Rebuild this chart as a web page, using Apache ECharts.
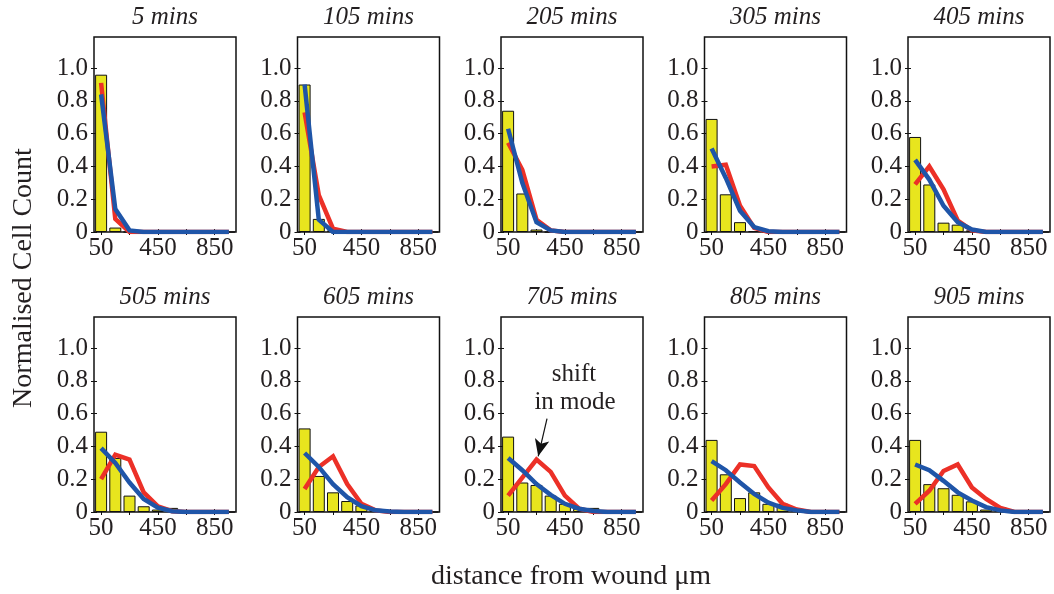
<!DOCTYPE html>
<html>
<head>
<meta charset="utf-8">
<script src="https://cdn.jsdelivr.net/npm/echarts@6/dist/echarts.min.js"></script>
<style>
html,body{margin:0;padding:0;background:#fff;}
#chart{width:1054px;height:594px;}
</style>
</head>
<body>
<div id="chart"></div>
<script>
// ---- data ----
const bins = [50, 150, 250, 350, 450, 550, 650, 750, 850, 950];
const panelTitles = ['5 mins','105 mins','205 mins','305 mins','405 mins','505 mins','605 mins','705 mins','805 mins','905 mins'];
const xTickLabels = [50, 450, 850];
const xTicks = [50, 250, 450, 650, 850];
const yTicks = [0, 0.2, 0.4, 0.6, 0.8, 1.0];

const hist5   = [0.96, 0.027, 0, 0, 0, 0, 0, 0, 0, 0];
const hist105 = [0.90, 0.08, 0.01, 0, 0, 0, 0, 0, 0, 0];
const hist205 = [0.74, 0.235, 0.015, 0, 0, 0, 0, 0, 0, 0];
const hist305 = [0.69, 0.23, 0.06, 0.005, 0, 0, 0, 0, 0, 0];
const hist405 = [0.58, 0.29, 0.057, 0.045, 0.01, 0, 0, 0, 0, 0];
const hist505 = [0.49, 0.33, 0.10, 0.035, 0.015, 0.025, 0, 0, 0, 0];
const hist605 = [0.51, 0.22, 0.12, 0.067, 0.04, 0.015, 0, 0, 0, 0];
const hist705 = [0.46, 0.18, 0.165, 0.10, 0.05, 0.02, 0.025, 0, 0, 0];
const hist805 = [0.44, 0.23, 0.085, 0.12, 0.05, 0.05, 0.015, 0, 0, 0];
const hist905 = [0.44, 0.17, 0.145, 0.105, 0.065, 0.015, 0.03, 0, 0, 0];

const red5   = [0.91, 0.08, 0, 0, 0, 0, 0, 0, 0, 0];
const red105 = [0.73, 0.225, 0.02, 0, 0, 0, 0, 0, 0, 0];
const red205 = [0.545, 0.38, 0.075, 0.01, 0, 0, 0, 0, 0, 0];
const red305 = [0.40, 0.41, 0.16, 0.025, 0, 0, 0, 0, 0, 0];
const red405 = [0.29, 0.40, 0.26, 0.07, 0.01, 0, 0, 0, 0, 0];
const red505 = [0.20, 0.35, 0.32, 0.12, 0.035, 0.005, 0, 0, 0, 0];
const red605 = [0.14, 0.275, 0.34, 0.17, 0.05, 0.01, 0, 0, 0, 0];
const red705 = [0.10, 0.21, 0.32, 0.245, 0.10, 0.02, 0, 0, 0, 0];
const red805 = [0.07, 0.17, 0.29, 0.28, 0.15, 0.05, 0.015, 0, 0, 0];
const red905 = [0.05, 0.13, 0.25, 0.29, 0.15, 0.08, 0.025, 0, 0, 0];

const blue5   = [0.84, 0.14, 0.01, 0, 0, 0, 0, 0, 0, 0];
const blue105 = [0.90, 0.075, 0, 0, 0, 0, 0, 0, 0, 0];
const blue205 = [0.63, 0.30, 0.06, 0.01, 0, 0, 0, 0, 0, 0];
const blue305 = [0.51, 0.33, 0.13, 0.03, 0.005, 0, 0, 0, 0, 0];
const blue405 = [0.44, 0.32, 0.16, 0.06, 0.015, 0, 0, 0, 0, 0];
const blue505 = [0.39, 0.30, 0.18, 0.08, 0.027, 0.005, 0, 0, 0, 0];
const blue605 = [0.36, 0.275, 0.17, 0.09, 0.035, 0.01, 0.003, 0, 0, 0];
const blue705 = [0.33, 0.255, 0.17, 0.105, 0.05, 0.02, 0.006, 0, 0, 0];
const blue805 = [0.31, 0.255, 0.18, 0.11, 0.057, 0.025, 0.01, 0, 0, 0];
const blue905 = [0.29, 0.255, 0.19, 0.12, 0.07, 0.03, 0.01, 0, 0, 0];

const hists = [hist5, hist105, hist205, hist305, hist405, hist505, hist605, hist705, hist805, hist905];
const reds  = [red5, red105, red205, red305, red405, red505, red605, red705, red805, red905];
const blues = [blue5, blue105, blue205, blue305, blue405, blue505, blue605, blue705, blue805, blue905];

// annotation arrow (data coords in 705 panel)
const arrowFrom = [324, 0.57];
const arrowTo = [262, 0.34];

// ---- layout ----
const FONT = "'Liberation Serif', 'DejaVu Serif', serif";
const TXT = '#231f20';
const colLeft = [94, 297.5, 501, 704.5, 908];
const rowTop = [37, 317];
const boxW = 142, boxH = 195;
const XMAX = 1000, YMAX = 1.19;

const grids = [], xAxes = [], yAxes = [], series = [], graphics = [];
for (let p = 0; p < 10; p++) {
  const r = Math.floor(p / 5), c = p % 5;
  grids.push({left: colLeft[c], top: rowTop[r], width: boxW, height: boxH,
    show: true, borderColor: '#111', borderWidth: 1.5, backgroundColor: 'transparent'});
  const xi = xAxes.length;
  xAxes.push({type: 'value', gridIndex: p, min: 0, max: XMAX, position: 'bottom',
    axisLine: {show: false}, splitLine: {show: false},
    axisTick: {show: true, inside: true, length: 3, customValues: xTicks, lineStyle: {color: '#111'}},
    axisLabel: {show: true, customValues: xTickLabels, margin: 4, fontFamily: FONT, fontSize: 25, color: TXT}});
  xAxes.push({type: 'value', gridIndex: p, min: 0, max: XMAX, position: 'top',
    axisLine: {show: false}, splitLine: {show: false},
    axisTick: {show: true, inside: true, length: 3, customValues: xTicks, lineStyle: {color: '#111'}},
    axisLabel: {show: false}});
  const yi = yAxes.length;
  yAxes.push({type: 'value', gridIndex: p, min: 0, max: YMAX, position: 'left',
    axisLine: {show: false}, splitLine: {show: false},
    axisTick: {show: true, inside: true, length: 3, customValues: yTicks, lineStyle: {color: '#111'}},
    axisLabel: {show: true, customValues: yTicks, margin: 6, fontFamily: FONT, fontSize: 25, color: TXT,
      formatter: v => (v === 0 ? '0' : Number(v).toFixed(1))}});
  yAxes.push({type: 'value', gridIndex: p, min: 0, max: YMAX, position: 'right',
    axisLine: {show: false}, splitLine: {show: false},
    axisTick: {show: true, inside: true, length: 3, customValues: yTicks, lineStyle: {color: '#111'}},
    axisLabel: {show: false}});

  series.push({type: 'bar', xAxisIndex: xi, yAxisIndex: yi, barWidth: 12,
    data: bins.map((b, i) => [b, hists[p][i]]),
    itemStyle: {color: '#e8e51e', borderColor: '#111', borderWidth: 1}, silent: true});
  series.push({type: 'line', xAxisIndex: xi, yAxisIndex: yi, showSymbol: false,
    data: bins.map((b, i) => [b, reds[p][i]]),
    lineStyle: {color: '#ec3027', width: 4.5, join: 'miter'}, silent: true});
  const blueSeries = {type: 'line', xAxisIndex: xi, yAxisIndex: yi, showSymbol: false,
    data: bins.map((b, i) => [b, blues[p][i]]),
    lineStyle: {color: '#1f55a8', width: 4.5, join: 'miter'}, silent: true};
  if (p === 7) {
    blueSeries.markLine = {silent: true, symbol: ['none', 'arrow'], symbolSize: [11, 17],
      label: {show: false}, lineStyle: {color: '#111', width: 1.2, type: 'solid'},
      data: [[{coord: arrowFrom}, {coord: arrowTo}]]};
  }
  series.push(blueSeries);

  graphics.push({type: 'text', x: colLeft[c] + boxW / 2, y: rowTop[r] - 20,
    style: {text: panelTitles[p], font: 'italic 25px ' + FONT, fill: TXT, align: 'center', verticalAlign: 'middle'}});
}

graphics.push({type: 'text', x: 574, y: 374,
  style: {text: 'shift', font: '25px ' + FONT, fill: TXT, align: 'center', verticalAlign: 'middle'}});
graphics.push({type: 'text', x: 575, y: 402,
  style: {text: 'in mode', font: '25px ' + FONT, fill: TXT, align: 'center', verticalAlign: 'middle'}});
graphics.push({type: 'text', x: 24, y: 278, rotation: Math.PI / 2,
  style: {text: 'Normalised Cell Count', font: '28px ' + FONT, fill: TXT, align: 'center', verticalAlign: 'middle'}});
graphics.push({type: 'text', x: 571, y: 577,
  style: {text: 'distance from wound \u03bcm', font: '28px ' + FONT, fill: TXT, align: 'center', verticalAlign: 'middle'}});

const chart = echarts.init(document.getElementById('chart'), null, {renderer: 'canvas'});
chart.setOption({
  animation: false,
  backgroundColor: '#fff',
  grid: grids, xAxis: xAxes, yAxis: yAxes, series: series, graphic: graphics
});
</script>
</body>
</html>
